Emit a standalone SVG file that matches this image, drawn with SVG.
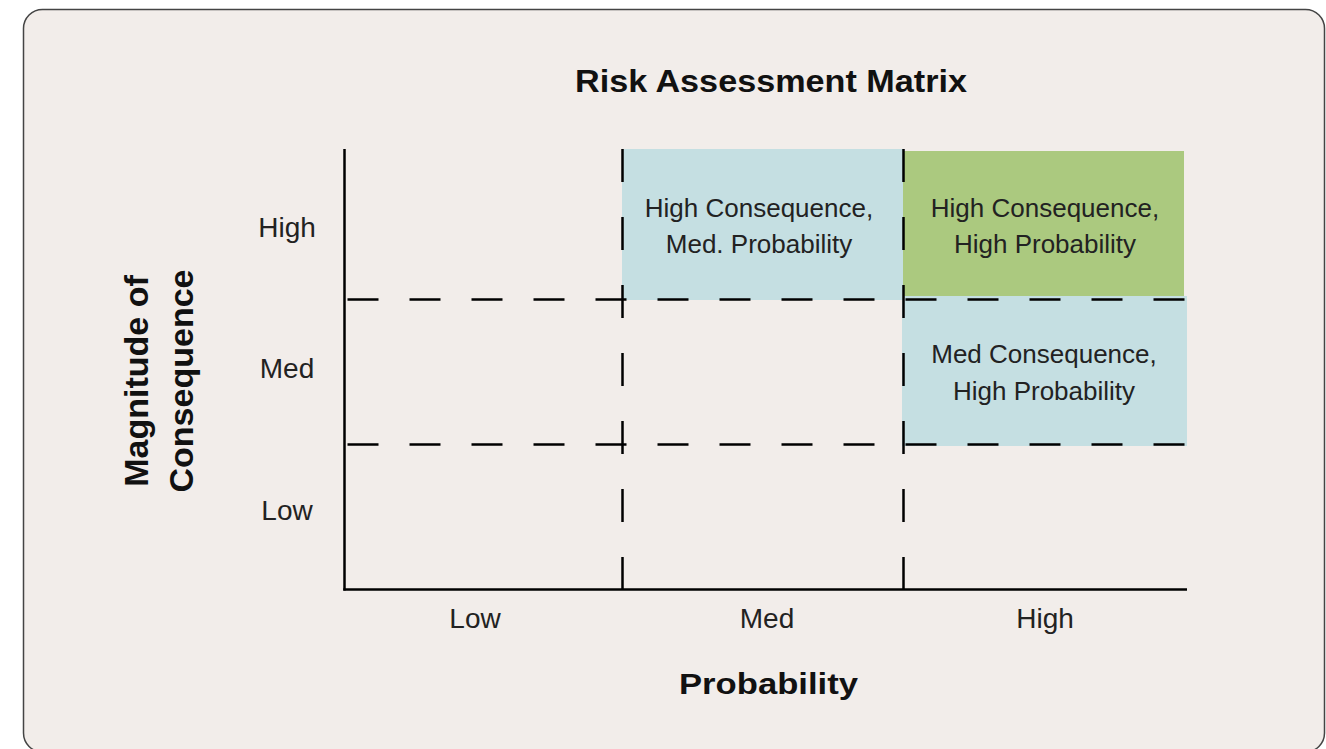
<svg xmlns="http://www.w3.org/2000/svg" width="1326" height="749" viewBox="0 0 1326 749">
  <style>
    .bold { font-family: "Liberation Sans", Arial, sans-serif; font-weight: bold; fill: #111; text-anchor: middle; }
    .lbl { font-family: "Liberation Sans", Arial, sans-serif; font-size: 28px; fill: #222; text-anchor: middle; }
    .cell { font-family: "Liberation Sans", Arial, sans-serif; font-size: 26px; fill: #222; text-anchor: middle; }
    .axis { stroke: #000; stroke-width: 2.5; fill: none; }
    .hdash { stroke: #000; stroke-width: 2.5; stroke-dasharray: 31 31; fill: none; }
    .vdash { stroke: #000; stroke-width: 2.5; stroke-dasharray: 33 35; fill: none; }
  </style>
  <rect id="card" x="23.5" y="9.5" width="1301" height="742.5" rx="19" ry="19" fill="#f2edea" stroke="#444" stroke-width="1.5"/>

  <text id="title" class="bold" x="771" y="92" font-size="32" textLength="392" lengthAdjust="spacingAndGlyphs">Risk Assessment Matrix</text>

  <g id="cell-high-med">
    <rect x="622" y="149" width="281" height="151" fill="#c5dfe2"/>
    <text class="cell" x="759" y="217">High Consequence,</text>
    <text class="cell" x="759" y="253">Med. Probability</text>
  </g>
  <g id="cell-high-high">
    <rect x="903" y="151" width="281" height="147" fill="#abc97f"/>
    <text class="cell" x="1045" y="217">High Consequence,</text>
    <text class="cell" x="1045" y="253">High Probability</text>
  </g>
  <g id="cell-med-high">
    <rect x="902" y="296" width="285" height="150" fill="#c5dfe2"/>
    <text class="cell" x="1044" y="363">Med Consequence,</text>
    <text class="cell" x="1044" y="400">High Probability</text>
  </g>

  <g id="connectors">
    <line class="hdash" x1="347.5" y1="299.5" x2="1187" y2="299.5"/>
    <line class="hdash" x1="347.5" y1="444.5" x2="1187" y2="444.5"/>
    <line class="vdash" x1="622.5" y1="149" x2="622.5" y2="590"/>
    <line class="vdash" x1="903.5" y1="149" x2="903.5" y2="590"/>
    <line class="axis" x1="344.5" y1="149" x2="344.5" y2="590.5"/>
    <line class="axis" x1="343.3" y1="589.5" x2="1187" y2="589.5"/>
  </g>

  <g id="y-ticks">
    <text class="lbl" x="287" y="237">High</text>
    <text class="lbl" x="287" y="378">Med</text>
    <text class="lbl" x="287" y="520">Low</text>
  </g>
  <g id="x-ticks">
    <text class="lbl" x="475" y="628">Low</text>
    <text class="lbl" x="767" y="628">Med</text>
    <text class="lbl" x="1045" y="628">High</text>
  </g>

  <text id="x-title" class="bold" x="768.5" y="694" font-size="30" textLength="179" lengthAdjust="spacingAndGlyphs">Probability</text>
  <g id="y-title">
    <text class="bold" font-size="34" transform="translate(148 381) rotate(-90)" x="0" y="0">Magnitude of</text>
    <text class="bold" font-size="34" transform="translate(193 381) rotate(-90)" x="0" y="0">Consequence</text>
  </g>
</svg>
